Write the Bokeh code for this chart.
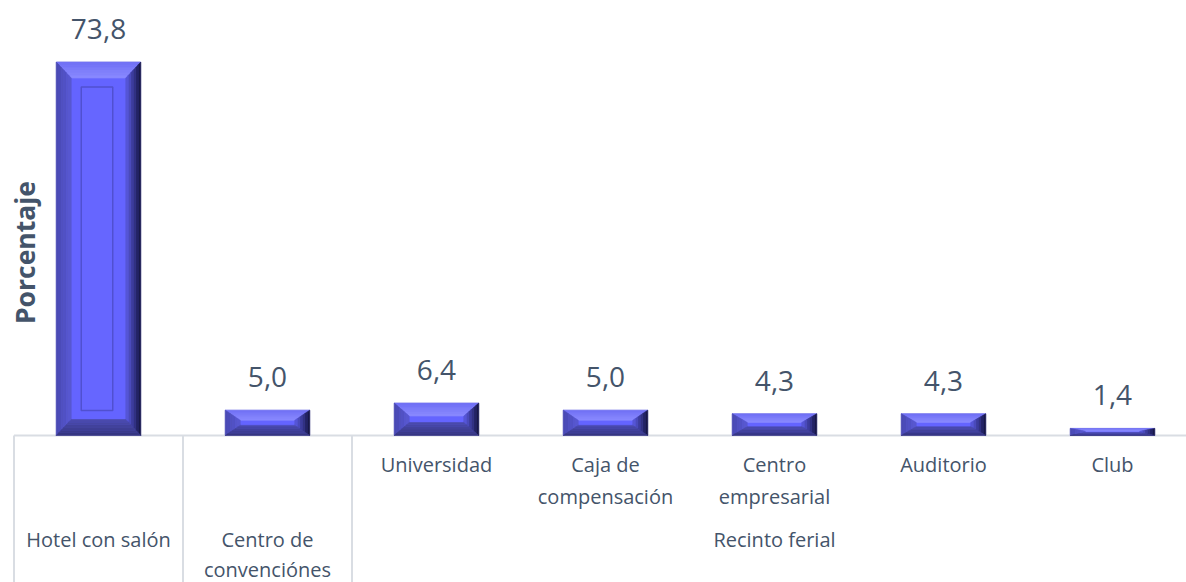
import math
from bokeh.plotting import figure
from bokeh.models import Range1d
from bokeh.core.properties import value
from bokeh.embed import file_html
from bokeh.resources import INLINE

# ---------------- data ----------------
outer_labels = ["Hotel con salón", "Centro de\nconvenciónes", "Recinto ferial"]
outer_counts = [1, 1, 5]
inner_labels = ["", "", "Universidad", "Caja de\ncompensación", "Centro\nempresarial",
                "Auditorio", "Club"]
values = [73.8, 5.0, 6.4, 5.0, 4.3, 4.3, 1.4]
y_title = "Porcentaje"

# ---------------- layout (pixels) ----------------
W, H = 1186, 582
SLOT_PX = 169.0          # width of one category slot
LEFT_PX = 13.5           # left edge of first slot inside the figure
PX_Y = 5.06              # pixels per percentage point
BASE_PX = 435.0          # baseline (y=0) from top of figure

TEXT = "#44546A"
AXIS = "#D9DDE3"
FONT = "Open Sans"

x_start = -LEFT_PX / SLOT_PX
x_end = (W - LEFT_PX) / SLOT_PX
y_end = BASE_PX / PX_Y
y_start = -(H - BASE_PX) / PX_Y

def px_y(px):   # pixel distance -> data units (y)
    return px / PX_Y

def px_x(px):
    return px / SLOT_PX

p = figure(width=W, height=H, output_backend="svg", toolbar_location=None,
           x_range=Range1d(x_start, x_end), y_range=Range1d(y_start, y_end),
           min_border=0, min_border_left=0, min_border_right=0,
           min_border_top=0, min_border_bottom=0)
p.axis.visible = False
p.grid.visible = False
p.outline_line_color = None
p.background_fill_color = "white"
p.border_fill_color = "white"

n = len(values)
centers = [i + 0.5 for i in range(n)]

# ---------------- category axis (Excel-like multi level) ----------------
p.segment(x0=[x_start + px_x(LEFT_PX)], y0=[0], x1=[x_end], y1=[0],
          line_color=AXIS, line_width=2)
bounds = [0]
for c in outer_counts:
    bounds.append(bounds[-1] + c)
sep_x = bounds[:-1]
p.segment(x0=sep_x, y0=[0] * len(sep_x), x1=sep_x, y1=[y_start] * len(sep_x),
          line_color=AXIS, line_width=2)

# ---------------- bevelled bars ----------------
BAR_W = 0.5
BX_PX = 15.0
def rect_at(L, R, T, t, bx, by):
    return (L + t * bx, t * by, R - t * bx, T - t * by)

def mix(c1, c2, f):
    a = [int(c1[i:i + 2], 16) for i in (1, 3, 5)]
    b = [int(c2[i:i + 2], 16) for i in (1, 3, 5)]
    return "#%02x%02x%02x" % tuple(round(a[k] + (b[k] - a[k]) * f) for k in range(3))

FACE = "#6464FF"
side_cols = {
    "top": ("#7070F4", "#8A8AFF"),
    "left": ("#4848B0", "#5A5AD4"),
    "right": ("#12123A", "#5C5CE4"),
    "bottom": ("#34347E", "#4C4CB0"),
}
NSTRIP = 6
fx0, fy0, fx1, fy1 = [], [], [], []
sxs, sys_, scol = [], [], []
px0, py0, px1, py1 = [], [], [], []
for c, v in zip(centers, values):
    L, R, T = c - BAR_W / 2, c + BAR_W / 2, v
    h_px = v * PX_Y
    by = px_y(min(16.0, 0.4 * h_px))
    bx = px_x(BX_PX)
    fx0.append(L); fx1.append(R); fy0.append(0); fy1.append(T)
    for side, (c_out, c_in) in side_cols.items():
        for k in range(NSTRIP):
            t0, t1 = k / NSTRIP, (k + 1) / NSTRIP
            l0, b0, r0, tp0 = rect_at(L, R, T, t0, bx, by)
            l1, b1, r1, tp1 = rect_at(L, R, T, t1, bx, by)
            if side == "top":
                xs = [l0, r0, r1, l1]; ys = [tp0, tp0, tp1, tp1]
            elif side == "bottom":
                xs = [l0, r0, r1, l1]; ys = [b0, b0, b1, b1]
            elif side == "left":
                xs = [l0, l0, l1, l1]; ys = [b0, tp0, tp1, b1]
            else:
                xs = [r0, r0, r1, r1]; ys = [b0, tp0, tp1, b1]
            sxs.append(xs); sys_.append(ys)
            scol.append(mix(c_out, c_in, (k + 0.5) / NSTRIP))
    # inner recessed panel on tall bars
    fl, fb, fr, ft = rect_at(L, R, T, 1, bx, by)
    if (ft - fb) * PX_Y > 60:
        px0.append(fl + px_x(10)); px1.append(fr - px_x(13))
        py0.append(fb + px_y(9)); py1.append(ft - px_y(9))

p.quad(left=fx0, right=fx1, bottom=fy0, top=fy1, fill_color=FACE,
       line_color="#B8B8E8", line_width=1)
p.patches(xs=sxs, ys=sys_, fill_color=scol, line_color=scol, line_width=0.6)
if px0:
    p.quad(left=px0, right=px1, bottom=py0, top=py1, fill_color="#6666FF",
           line_color="#5050D0", line_width=1.5)

# ---------------- value labels ----------------
val_txt = [f"{v:.1f}".replace(".", ",") for v in values]
p.text(x=centers, y=[v + px_y(33) for v in values], text=val_txt,
       text_font=value(FONT), text_font_size="28px", text_color=TEXT,
       text_align="center", text_baseline="middle")

# ---------------- category labels ----------------
p.text(x=centers, y=[-px_y(15)] * n, text=inner_labels,
       text_font=value(FONT), text_font_size="20px", text_color=TEXT,
       text_align="center", text_baseline="top", text_line_height=1.2)

group_x = [(bounds[i] + bounds[i + 1]) / 2 for i in range(len(outer_labels))]
p.text(x=group_x, y=[-px_y(90)] * len(outer_labels), text=outer_labels,
       text_font=value(FONT), text_font_size="20px", text_color=TEXT,
       text_align="center", text_baseline="top", text_line_height=1.12)

# ---------------- y title ----------------
p.text(x=[px_x(24 - LEFT_PX)], y=[px_y(BASE_PX - 252)], text=[y_title],
       text_font=value(FONT), text_font_size="26.5px", text_font_style="bold",
       text_color=TEXT, text_align="center", text_baseline="middle",
       angle=math.pi / 2)

open("out.html", "w").write(file_html(p, INLINE))
